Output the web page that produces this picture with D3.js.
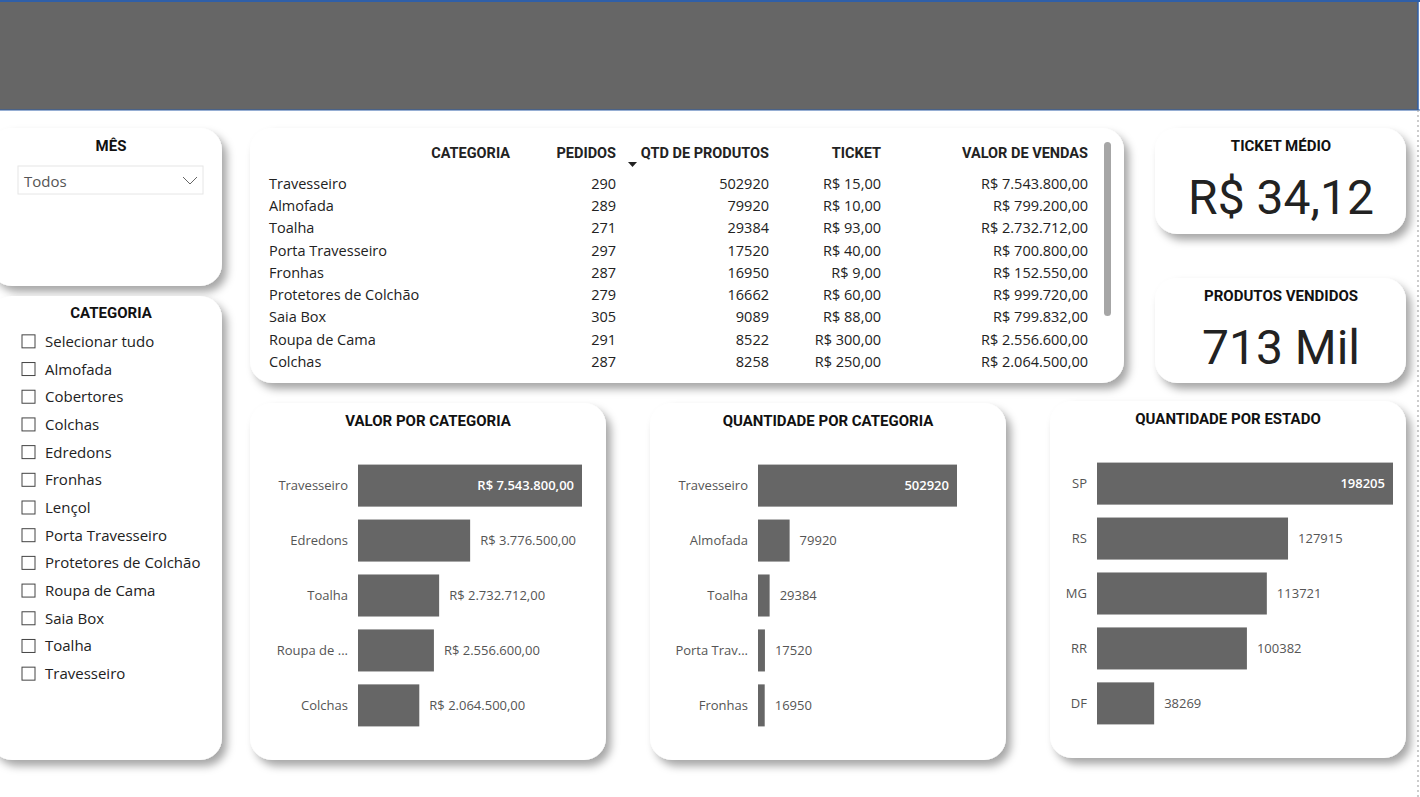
<!DOCTYPE html>
<html><head><meta charset="utf-8">
<script src="https://cdn.jsdelivr.net/npm/d3@7"></script>
<style>
body{margin:0;background:#fff;font-family:"Open Sans","Noto Sans",sans-serif;}
svg{display:block;}
</style></head>
<body>
<svg id="dash" width="1420" height="797"></svg>
<script>
// table data
const tabCategorias = ['Travesseiro','Almofada','Toalha','Porta Travesseiro','Fronhas','Protetores de Colchão','Saia Box','Roupa de Cama','Colchas'];
const tabPedidos = [290,289,271,297,287,279,305,291,287];
const tabQtd = [502920,79920,29384,17520,16950,16662,9089,8522,8258];
const tabTicket = [15,10,93,40,9,60,88,300,250];
const tabValor = [7543800,799200,2732712,700800,152550,999720,799832,2556600,2064500];

// bar charts
const valorCats = ['Travesseiro','Edredons','Toalha','Roupa de ...','Colchas'];
const valorVals = [7543800,3776500,2732712,2556600,2064500];
const qtdCats = ['Travesseiro','Almofada','Toalha','Porta Trav...','Fronhas'];
const qtdVals = [502920,79920,29384,17520,16950];
const estados = ['SP','RS','MG','RR','DF'];
const estadoVals = [198205,127915,113721,100382,38269];

const sliceCats = ['Selecionar tudo','Almofada','Cobertores','Colchas','Edredons','Fronhas','Lençol','Porta Travesseiro','Protetores de Colchão','Roupa de Cama','Saia Box','Toalha','Travesseiro'];

const svg = d3.select('#dash');
const titleFont = '"Roboto","DejaVu Sans",sans-serif';
const brl = v => 'R$ ' + v.toLocaleString('pt-BR', {minimumFractionDigits: 2, maximumFractionDigits: 2});

const defs = svg.append('defs');
const f = defs.append('filter').attr('id', 'sh').attr('x', '-10%').attr('y', '-10%').attr('width', '130%').attr('height', '130%');
f.append('feDropShadow').attr('dx', 5).attr('dy', 6).attr('stdDeviation', 4).attr('flood-color', '#000').attr('flood-opacity', 0.35);

// header
svg.append('rect').attr('x', 0).attr('y', 0).attr('width', 1418).attr('height', 110).attr('fill', '#666666');
svg.append('line').attr('x1', 0).attr('x2', 1420).attr('y1', 1).attr('y2', 1).attr('stroke', '#2f5fa8').attr('stroke-width', 2);
svg.append('line').attr('x1', 0).attr('x2', 1420).attr('y1', 110).attr('y2', 110).attr('stroke', '#2f5fa8').attr('stroke-width', 1);
svg.append('line').attr('x1', 1418).attr('x2', 1418).attr('y1', 0).attr('y2', 110).attr('stroke', '#2f5fa8').attr('stroke-width', 1.5);
svg.append('line').attr('x1', 1418).attr('x2', 1418).attr('y1', 110).attr('y2', 797).attr('stroke', '#999').attr('stroke-dasharray', '2,3');

function card(x, y, w, h) {
  svg.append('rect').attr('x', x).attr('y', y).attr('width', w).attr('height', h)
    .attr('rx', 22).attr('fill', '#fff').attr('filter', 'url(#sh)');
}
function title(x, y, t, size) {
  svg.append('text').attr('x', x).attr('y', y).attr('text-anchor', 'middle')
    .attr('font-family', titleFont).attr('font-weight', 'bold').attr('font-size', size || 15)
    .attr('fill', '#111').text(t);
}

// MES slicer
card(-10, 128, 232, 158);
title(111, 151, 'MÊS');
svg.append('rect').attr('x', 18).attr('y', 166).attr('width', 185).attr('height', 28).attr('fill', '#fff').attr('stroke', '#e6e6e6');
svg.append('text').attr('x', 24).attr('y', 187).attr('font-size', 15).attr('fill', '#555').text('Todos');
svg.append('path').attr('d', 'M183,177 l7,7 l7,-7').attr('fill', 'none').attr('stroke', '#666');

// CATEGORIA slicer
card(-10, 296, 232, 464);
title(111, 318, 'CATEGORIA');
const sy = d3.scaleBand().domain(sliceCats).range([328, 688]);
const sl = svg.append('g').selectAll('g').data(sliceCats).join('g')
  .attr('transform', d => `translate(0,${sy(d) + sy.bandwidth() / 2})`);
sl.append('rect').attr('x', 22).attr('y', -7).attr('width', 13).attr('height', 13).attr('fill', '#fff').attr('stroke', '#444');
sl.append('text').attr('x', 45).attr('y', 5).attr('font-size', 15).attr('fill', '#222').text(d => d);

// table
card(250, 128, 874, 255);
const th = [['CATEGORIA', 510], ['PEDIDOS', 616], ['QTD DE PRODUTOS', 769], ['TICKET', 881], ['VALOR DE VENDAS', 1088]];
svg.append('g').selectAll('text').data(th).join('text')
  .attr('x', d => d[1]).attr('y', 158).attr('text-anchor', 'end')
  .attr('font-family', titleFont).attr('font-weight', 'bold').attr('font-size', 14.5).attr('fill', '#222').text(d => d[0]);
svg.append('path').attr('d', 'M628,162 h9 l-4.5,5 z').attr('fill', '#222');
const ry = d3.scaleBand().domain(d3.range(tabCategorias.length)).range([173, 373]);
const rows = svg.append('g').selectAll('g').data(d3.range(tabCategorias.length)).join('g')
  .attr('transform', i => `translate(0,${ry(i) + 16})`).attr('font-size', 14.5).attr('fill', '#222');
rows.append('text').attr('x', 269).text(i => tabCategorias[i]);
rows.append('text').attr('x', 616).attr('text-anchor', 'end').text(i => tabPedidos[i]);
rows.append('text').attr('x', 769).attr('text-anchor', 'end').text(i => tabQtd[i]);
rows.append('text').attr('x', 881).attr('text-anchor', 'end').text(i => brl(tabTicket[i]));
rows.append('text').attr('x', 1088).attr('text-anchor', 'end').text(i => brl(tabValor[i]));
svg.append('rect').attr('x', 1104).attr('y', 142).attr('width', 7).attr('height', 174).attr('rx', 3.5).attr('fill', '#a6a6a6');

// KPI cards
card(1155, 128, 251, 106);
title(1281, 151, 'TICKET MÉDIO');
svg.append('text').attr('x', 1281).attr('y', 214).attr('text-anchor', 'middle').attr('font-family', titleFont)
  .attr('font-size', 48).attr('fill', '#222').text('R$ 34,12');
card(1155, 278, 251, 105);
title(1281, 301, 'PRODUTOS VENDIDOS');
svg.append('text').attr('x', 1281).attr('y', 364).attr('text-anchor', 'middle').attr('font-family', titleFont)
  .attr('font-size', 48).attr('fill', '#222').text('713 Mil');

// bar charts
function barChart(cx, cy, t, cats, vals, x0, x1, top, fmt) {
  card(cx, cy, 356, 357);
  title(cx + 178, cy + 23, t);
  const x = d3.scaleLinear().domain([0, d3.max(vals)]).range([x0, x1]);
  const y = d3.scaleBand().domain(cats).range([top, top + 275]).paddingInner(0.235).paddingOuter(0.12);
  const g = svg.append('g');
  const data = cats.map((c, i) => ({c, v: vals[i]}));
  g.selectAll('rect').data(data).join('rect')
    .attr('x', x0).attr('y', d => y(d.c)).attr('width', d => x(d.v) - x0).attr('height', y.bandwidth()).attr('fill', '#666666');
  g.selectAll('.lab').data(data).join('text')
    .attr('x', x0 - 10).attr('y', d => y(d.c) + y.bandwidth() / 2 + 4.5).attr('text-anchor', 'end')
    .attr('font-size', 13).attr('fill', '#555').text(d => d.c);
  g.selectAll('.val').data(data).join('text')
    .attr('x', (d, i) => i === 0 ? x(d.v) - 8 : x(d.v) + 10)
    .attr('y', d => y(d.c) + y.bandwidth() / 2 + 4.5)
    .attr('text-anchor', (d, i) => i === 0 ? 'end' : 'start')
    .attr('font-size', 13).attr('font-weight', (d, i) => i === 0 ? 600 : 400)
    .attr('fill', (d, i) => i === 0 ? '#fff' : '#555').text(d => fmt(d.v));
}
barChart(250, 403, 'VALOR POR CATEGORIA', valorCats, valorVals, 358, 582, 458, brl);
barChart(650, 403, 'QUANTIDADE POR CATEGORIA', qtdCats, qtdVals, 758, 957, 458, String);
barChart(1050, 401, 'QUANTIDADE POR ESTADO', estados, estadoVals, 1097, 1393, 456, String);
</script>
</body></html>
